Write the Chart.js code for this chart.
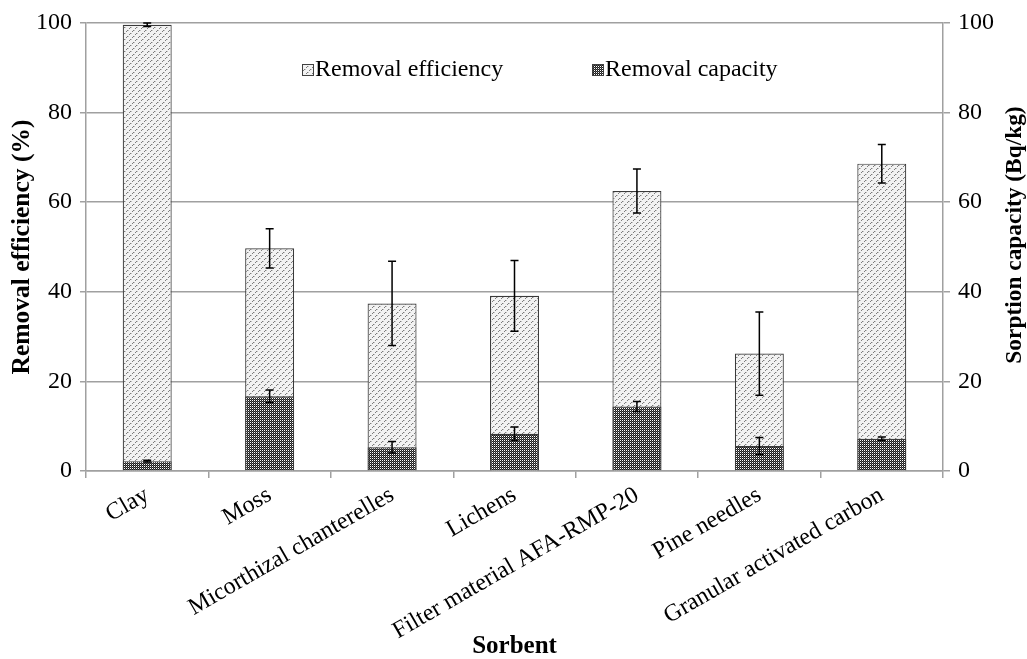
<!DOCTYPE html>
<html>
<head>
<meta charset="utf-8">
<script src="https://cdn.jsdelivr.net/npm/chart.js@4.4.0/dist/chart.umd.min.js"></script>
<style>
html, body { margin: 0; padding: 0; background: #fff; }
#wrap { width: 1027px; height: 659px; }
</style>
</head>
<body>
<div id="wrap"><canvas id="sorbent"></canvas></div>
<script>
var sorbents = ["Clay", "Moss", "Micorthizal chanterelles", "Lichens", "Filter material AFA-RMP-20", "Pine needles", "Granular activated carbon"];
var efficiency = [99.6, 49.7, 37.4, 39.1, 62.5, 26.2, 68.6];
var efficiencyErr = [0.4, 4.4, 9.4, 7.9, 4.9, 9.3, 4.3];
var capacity = [2.2, 16.7, 5.3, 8.3, 14.4, 5.6, 7.2];
var capacityErr = [0.2, 1.4, 1.3, 1.5, 1.1, 1.9, 0.4];
var yTicks = [0, 20, 40, 60, 80, 100];

var gridColor = '#a0a0a0';
var serif = "'Liberation Serif', 'DejaVu Serif', serif";

// small tiles for the excel-like fill patterns
function makePattern(bg, size, dots) {
    var c = document.createElement('canvas');
    c.width = size;
    c.height = size;
    var g = c.getContext('2d');
    g.fillStyle = bg;
    g.fillRect(0, 0, size, size);
    dots.forEach(function (d) {
        g.fillStyle = d[2];
        g.fillRect(d[0], d[1], 1, 1);
    });
    return g.createPattern(c, 'repeat');
}
var dotted = makePattern('#f2f2f2', 6, [[1, 0, '#7c7c7c'], [0, 1, '#7c7c7c'], [4, 3, '#7c7c7c'], [3, 4, '#7c7c7c'], [2, 0, '#c4c4c4'], [5, 3, '#c4c4c4']]);
var checked = makePattern('#1e1e1e', 2, [[0, 0, '#ffffff'], [1, 1, '#5a5a5a']]);

var errorBars = {
    id: 'errorBars',
    afterDatasetsDraw: function (chart) {
        var ctx = chart.ctx;
        ctx.save();
        ctx.strokeStyle = '#000';
        ctx.lineWidth = 1.5;
        chart.data.datasets.forEach(function (ds, i) {
            var meta = chart.getDatasetMeta(i);
            var scale = chart.scales[ds.yAxisID];
            meta.data.forEach(function (bar, j) {
                var top = scale.getPixelForValue(ds.data[j] + ds.errors[j]);
                var bot = scale.getPixelForValue(ds.data[j] - ds.errors[j]);
                var x = bar.x;
                ctx.beginPath();
                ctx.moveTo(x, top); ctx.lineTo(x, bot);
                ctx.moveTo(x - 4, top); ctx.lineTo(x + 4, top);
                ctx.moveTo(x - 4, bot); ctx.lineTo(x + 4, bot);
                ctx.stroke();
            });
        });
        ctx.restore();
    }
};

// legend sits inside the plot, and the right title reads bottom-to-top
var extras = {
    id: 'extras',
    afterDraw: function (chart) {
        var ctx = chart.ctx;
        var area = chart.chartArea;
        ctx.save();
        ctx.font = '24px ' + serif;
        ctx.textBaseline = 'middle';
        ctx.fillStyle = '#000';
        var ly = area.top + 47;
        var items = [
            { text: 'Removal efficiency', fill: dotted, x: area.left + 216 },
            { text: 'Removal capacity', fill: checked, x: area.left + 506 }
        ];
        items.forEach(function (it) {
            ctx.fillStyle = it.fill;
            ctx.fillRect(it.x, ly - 6, 12, 12);
            ctx.strokeStyle = '#404040';
            ctx.lineWidth = 1;
            ctx.strokeRect(it.x + 0.5, ly - 5.5, 11, 11);
            ctx.fillStyle = '#000';
            ctx.fillText(it.text, it.x + 13, ly);
        });
        var r = chart.scales.y2;
        ctx.translate(r.right - 12, (area.top + area.bottom) / 2 - 12);
        ctx.rotate(-Math.PI / 2);
        ctx.textAlign = 'center';
        ctx.font = 'bold 23.4px ' + serif;
        ctx.fillText('Sorption capacity (Bq/kg)', 0, 0);
        ctx.restore();
    }
};

var data = {
    labels: sorbents,
    datasets: [
        {
            label: 'Removal efficiency',
            data: efficiency,
            errors: efficiencyErr,
            yAxisID: 'y',
            backgroundColor: dotted,
            borderColor: '#3a3a3a',
            borderWidth: 1.2,
            order: 2
        },
        {
            label: 'Removal capacity',
            data: capacity,
            errors: capacityErr,
            yAxisID: 'y2',
            backgroundColor: checked,
            borderColor: '#3a3a3a',
            borderWidth: 1.2,
            order: 1
        }
    ]
};

var options = {
    responsive: true,
    maintainAspectRatio: false,
    animation: false,
    grouped: false,
    categoryPercentage: 0.8,
    barPercentage: 0.5,
    layout: { padding: { top: 23, left: 0, right: 0, bottom: 0 } },
    plugins: {
        legend: { display: false },
        tooltip: { enabled: false }
    },
    scales: {
        x: {
            grid: { drawOnChartArea: false, drawTicks: true, tickLength: 7, color: gridColor, lineWidth: 1.5 },
            border: { color: gridColor, width: 1.5 },
            ticks: { font: { family: serif, size: 24 }, color: '#000', minRotation: 30, maxRotation: 30, padding: 3 },
            title: { display: true, text: 'Sorbent', color: '#000', font: { family: serif, size: 25, weight: 'bold', lineHeight: 1 }, padding: { top: 0, bottom: 0 } },
            afterFit: function (scale) { scale.height = 188; }
        },
        y: {
            position: 'left',
            min: 0,
            max: 100,
            afterBuildTicks: function (scale) { scale.ticks = yTicks.map(function (v) { return { value: v }; }); },
            grid: { color: gridColor, lineWidth: 1.5, tickLength: 6 },
            border: { color: gridColor, width: 1.5 },
            ticks: { font: { family: serif, size: 24 }, color: '#000', padding: 8 },
            title: { display: true, text: 'Removal efficiency (%)', color: '#000', font: { family: serif, size: 25.5, weight: 'bold', lineHeight: 1 }, padding: { top: 10, bottom: 0 } },
            afterFit: function (scale) { scale.width = 86; }
        },
        y2: {
            position: 'right',
            min: 0,
            max: 100,
            afterBuildTicks: function (scale) { scale.ticks = yTicks.map(function (v) { return { value: v }; }); },
            grid: { drawOnChartArea: false, color: gridColor, lineWidth: 1.5, tickLength: 7 },
            border: { color: gridColor, width: 1.5 },
            ticks: { font: { family: serif, size: 24 }, color: '#000', padding: 8 },
            afterFit: function (scale) { scale.width = 84; }
        }
    }
};

var canvas = document.getElementById('sorbent');
var ctx = canvas.getContext('2d');
var sorbentChart = new Chart(ctx, {
    type: 'bar',
    data: data,
    options: options,
    plugins: [errorBars, extras]
});
</script>
</body>
</html>
